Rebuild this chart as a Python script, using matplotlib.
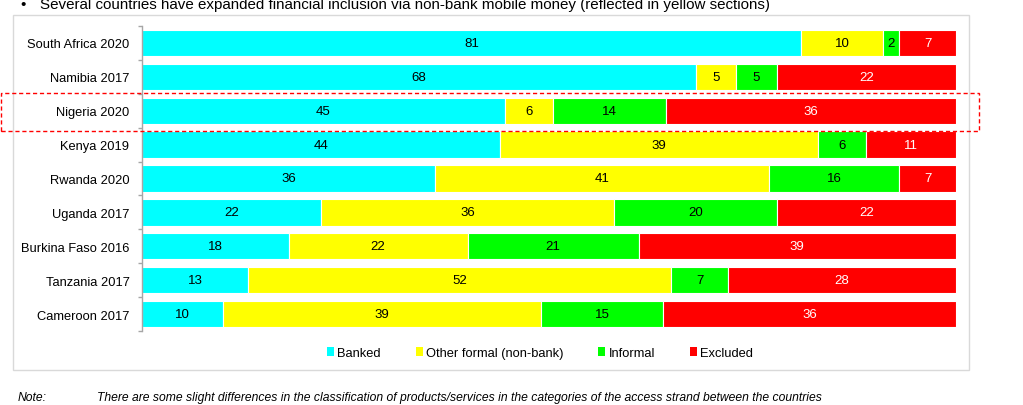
import matplotlib
matplotlib.use("Agg")
import matplotlib.pyplot as plt
from matplotlib.patches import Rectangle, Patch
import numpy as np

plt.rcParams['font.family'] = ['Liberation Sans', 'DejaVu Sans']

countries = ["South Africa 2020", "Namibia 2017", "Nigeria 2020", "Kenya 2019",
             "Rwanda 2020", "Uganda 2017", "Burkina Faso 2016", "Tanzania 2017",
             "Cameroon 2017"]
banked = [81, 68, 45, 44, 36, 22, 18, 13, 10]
other_formal = [10, 5, 6, 39, 41, 36, 22, 52, 39]
informal = [2, 5, 14, 6, 16, 20, 21, 7, 15]
excluded = [7, 22, 36, 11, 7, 22, 39, 28, 36]

series_names = ["Banked", "Other formal (non-bank)", "Informal", "Excluded"]
colors = ["#00FFFF", "#FFFF00", "#00FF00", "#FF0000"]
label_colors = ["black", "black", "black", "white"]

bullet = "•"
title = "Several countries have expanded financial inclusion via non-bank mobile money (reflected in yellow sections)"
note_label = "Note:"
note_text = "There are some slight differences in the classification of products/services in the categories of the access strand between the countries"

W, H = 1023, 406
fig = plt.figure(figsize=(W / 100, H / 100), dpi=100)

# chart frame
fig.patches.append(Rectangle((13 / W, 1 - 371 / H), (969 - 13) / W, (371 - 16) / H,
                             transform=fig.transFigure, fill=False,
                             edgecolor="#D9D9D9", linewidth=1.0))

ax = fig.add_axes([142 / W, 1 - 332 / H, (956 - 142) / W, (332 - 27) / H])

data = np.array([banked, other_formal, informal, excluded], dtype=float)
totals = data.sum(axis=0)
pct = data / totals * 100
y = np.arange(len(countries))
left = np.zeros(len(countries))
for k in range(4):
    ax.barh(y, pct[k], left=left, height=0.78, color=colors[k],
            edgecolor="white", linewidth=0.8, label=series_names[k])
    for i in range(len(countries)):
        ax.text(left[i] + pct[k][i] / 2, y[i], f"{int(data[k][i])}",
                ha="center", va="center", fontsize=9.5, color=label_colors[k])
    left += pct[k]

ax.set_xlim(0, 100)
ax.set_ylim(len(countries) - 0.5, -0.5)
ax.set_yticks(y)
ax.set_yticklabels(countries, fontsize=9.3)
ax.tick_params(axis="y", which="major", length=0, pad=9)
ax.set_yticks(np.arange(-0.5, len(countries), 1), minor=True)
ax.tick_params(axis="y", which="minor", length=3, color="#A6A6A6", width=1)
ax.set_xticks([])
for s in ["top", "right", "bottom"]:
    ax.spines[s].set_visible(False)
ax.spines["left"].set_color("#A6A6A6")
ax.spines["left"].set_linewidth(1.0)

# highlight Nigeria row
fig.patches.append(Rectangle((1 / W, 1 - 132 / H), (979 - 1) / W, (132 - 94) / H,
                             transform=fig.transFigure, fill=False,
                             edgecolor="#FF0000", linewidth=1.0, linestyle=(0, (3, 2))))

handles = [Patch(facecolor=c, edgecolor="none") for c in colors]
fig.legend(handles, series_names, loc="center", bbox_to_anchor=(540 / W, 1 - 354 / H),
           ncol=4, frameon=False, fontsize=9.3, handlelength=0.55, handleheight=0.75,
           handletextpad=0.25, columnspacing=2.7)

fig.text(20 / W, 1 - 5 / H, bullet, fontsize=10.8, va="center", ha="left", color="black")
fig.text(40 / W, 1 - 5 / H, title, fontsize=10.9, va="center", ha="left", color="black")
fig.text(18 / W, 1 - 398 / H, note_label, fontsize=8.7, style="italic", va="center", ha="left")
fig.text(97 / W, 1 - 398 / H, note_text, fontsize=8.7, style="italic", va="center", ha="left")

fig.savefig("out.png", dpi=100)
